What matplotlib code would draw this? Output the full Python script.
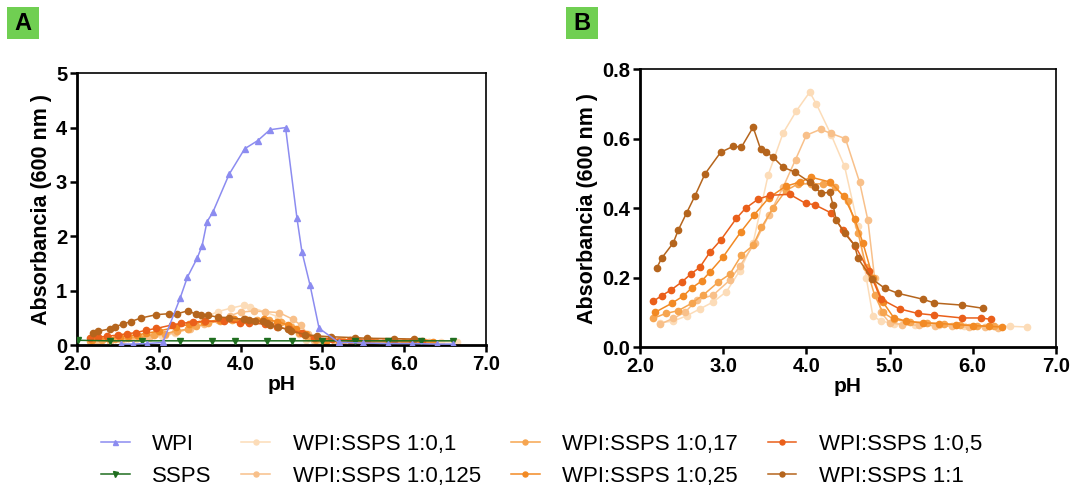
import matplotlib.pyplot as plt
from matplotlib.patches import Rectangle

plt.rcParams['font.family'] = ['Liberation Sans', 'DejaVu Sans']

# WPI and SSPS alone (panel A only)
wpi_ph = [2.54, 2.68, 2.86, 3.05, 3.26, 3.35, 3.47, 3.53, 3.59, 3.66, 3.86, 4.05, 4.21,
          4.36, 4.55, 4.69, 4.75, 4.85, 4.96, 5.2, 5.5, 5.8, 6.1, 6.4, 6.6]
wpi_abs = [0.02, 0.02, 0.03, 0.05, 0.86, 1.25, 1.60, 1.83, 2.27, 2.44, 3.14, 3.61, 3.76,
           3.96, 4.00, 2.33, 1.72, 1.10, 0.31, 0.05, 0.04, 0.03, 0.03, 0.02, 0.02]

ssps_ph = [2.01, 2.4, 2.8, 3.26, 3.65, 3.93, 4.32, 4.63, 5.0, 5.4, 5.8, 6.2, 6.6]
ssps_abs = [0.09, 0.08, 0.08, 0.08, 0.08, 0.08, 0.08, 0.08, 0.08, 0.08, 0.08, 0.08, 0.08]

# mixtures
m01_ph = [2.24, 2.40, 2.56, 2.72, 2.88, 3.04, 3.20, 3.36, 3.54, 3.72, 3.88, 4.04, 4.12,
          4.30, 4.46, 4.62, 4.72, 4.80, 4.90, 5.05, 5.30, 5.60, 5.90, 6.20, 6.45, 6.65]
m01_abs = [0.07, 0.075, 0.09, 0.11, 0.13, 0.16, 0.22, 0.30, 0.495, 0.616, 0.68, 0.734, 0.70,
           0.61, 0.52, 0.35, 0.20, 0.089, 0.075, 0.068, 0.065, 0.063, 0.062, 0.06, 0.06, 0.058]

m0125_ph = [2.24, 2.40, 2.54, 2.68, 2.88, 3.08, 3.20, 3.38, 3.55, 3.72, 3.87, 4.00, 4.17,
            4.30, 4.47, 4.64, 4.74, 4.82, 4.90, 5.00, 5.15, 5.35, 5.55, 5.75, 5.95, 6.15, 6.30]
m0125_abs = [0.066, 0.083, 0.10, 0.135, 0.15, 0.193, 0.233, 0.30, 0.38, 0.46, 0.54, 0.61, 0.627,
             0.615, 0.60, 0.475, 0.365, 0.20, 0.10, 0.07, 0.065, 0.063, 0.062, 0.06, 0.058, 0.057, 0.056]

m017_ph = [2.16, 2.31, 2.46, 2.62, 2.76, 2.94, 3.08, 3.22, 3.36, 3.46, 3.60, 3.75, 3.90, 4.05,
           4.20, 4.35, 4.50, 4.62, 4.72, 4.82, 4.92, 5.05, 5.25, 5.45, 5.65, 5.85, 6.05, 6.25]
m017_abs = [0.083, 0.097, 0.105, 0.126, 0.15, 0.187, 0.21, 0.265, 0.293, 0.345, 0.40, 0.45, 0.47, 0.47,
            0.47, 0.46, 0.42, 0.33, 0.23, 0.15, 0.10, 0.08, 0.072, 0.07, 0.066, 0.064, 0.062, 0.06]

m025_ph = [2.18, 2.38, 2.52, 2.62, 2.74, 2.84, 3.00, 3.21, 3.37, 3.55, 3.75, 3.92, 4.06, 4.29,
           4.45, 4.58, 4.68, 4.80, 4.92, 5.05, 5.20, 5.40, 5.60, 5.80, 6.00, 6.20, 6.35]
m025_abs = [0.10, 0.126, 0.147, 0.17, 0.19, 0.216, 0.26, 0.331, 0.38, 0.43, 0.463, 0.475, 0.489, 0.475,
            0.434, 0.37, 0.30, 0.20, 0.13, 0.085, 0.075, 0.07, 0.068, 0.065, 0.062, 0.06, 0.058]

m05_ph = [2.16, 2.26, 2.37, 2.50, 2.61, 2.72, 2.84, 2.97, 3.16, 3.27, 3.42, 3.56, 3.80, 3.99,
          4.10, 4.30, 4.44, 4.59, 4.75, 4.90, 5.12, 5.34, 5.54, 5.87, 6.10, 6.22]
m05_abs = [0.132, 0.148, 0.164, 0.187, 0.21, 0.23, 0.273, 0.308, 0.371, 0.40, 0.426, 0.437, 0.44, 0.414,
           0.41, 0.386, 0.337, 0.29, 0.22, 0.138, 0.11, 0.097, 0.092, 0.084, 0.084, 0.08]

m1_ph = [2.20, 2.26, 2.40, 2.46, 2.56, 2.66, 2.78, 2.97, 3.12, 3.22, 3.36, 3.45, 3.52, 3.60, 3.72,
         3.86, 4.04, 4.10, 4.18, 4.28, 4.32, 4.36, 4.46, 4.58, 4.62, 4.79, 4.94, 5.10, 5.40, 5.54,
         5.87, 6.12]
m1_abs = [0.227, 0.256, 0.30, 0.337, 0.386, 0.435, 0.498, 0.561, 0.578, 0.576, 0.633, 0.57, 0.561,
          0.547, 0.518, 0.504, 0.475, 0.46, 0.443, 0.446, 0.41, 0.365, 0.328, 0.293, 0.256, 0.196,
          0.17, 0.155, 0.138, 0.127, 0.121, 0.112]

mix_labels = ['WPI:SSPS 1:0,1', 'WPI:SSPS 1:0,125', 'WPI:SSPS 1:0,17',
              'WPI:SSPS 1:0,25', 'WPI:SSPS 1:0,5', 'WPI:SSPS 1:1']
mix_colors = ['#fcdcb8', '#f8c08a', '#f6a550', '#f28a24', '#ea5f1a', '#b5651d']
mix_data = [(m01_ph, m01_abs), (m0125_ph, m0125_abs), (m017_ph, m017_abs),
            (m025_ph, m025_abs), (m05_ph, m05_abs), (m1_ph, m1_abs)]

fig = plt.figure(figsize=(10.72, 4.91), dpi=100)
axA = fig.add_axes([0.0718, 0.297, 0.3815, 0.554])
axB = fig.add_axes([0.597, 0.293, 0.388, 0.566])


def style(ax):
    for s in ['left', 'bottom']:
        ax.spines[s].set_linewidth(2.0)
    for s in ['top', 'right']:
        ax.spines[s].set_linewidth(1.2)
    ax.tick_params(direction='out', length=5, width=1.8, labelsize=14.5, pad=2)
    for lab in ax.get_xticklabels() + ax.get_yticklabels():
        lab.set_fontweight('bold')
    ax.set_xlim(2, 7)
    ax.set_xlabel('pH', fontsize=15, fontweight='bold', labelpad=1)
    ax.set_ylabel('Absorbancia (600 nm )', fontsize=15.5, fontweight='bold', labelpad=3)


handles = []
h, = axA.plot(wpi_ph, wpi_abs, '-^', color='#8c8cf0', lw=1.1, ms=4.5, label='WPI', zorder=4)
handles.append(h)
h, = axA.plot(ssps_ph, ssps_abs, '-v', color='#1f6e1f', lw=1.1, ms=4.5, label='SSPS', zorder=3)
handles.append(h)
for (px, py), lab, c in zip(mix_data, mix_labels, mix_colors):
    axA.plot(px, py, '-o', color=c, lw=1.1, ms=4.5)
    h, = axB.plot(px, py, '-o', color=c, lw=1.1, ms=4.5, label=lab)
    handles.append(h)

axA.set_ylim(0, 5)
axA.set_yticks([0, 1, 2, 3, 4, 5])
axA.set_yticklabels(['0', '1', '2', '3', '4', '5'])
axB.set_ylim(0, 0.8)
axB.set_yticks([0.0, 0.2, 0.4, 0.6, 0.8])
axB.set_yticklabels(['0.0', '0.2', '0.4', '0.6', '0.8'])
for ax in (axA, axB):
    ax.set_xticks([2, 3, 4, 5, 6, 7])
    ax.set_xticklabels(['2.0', '3.0', '4.0', '5.0', '6.0', '7.0'])
    style(ax)

fig.legend(handles=handles, loc='center', bbox_to_anchor=(0.505, 0.063), ncol=4,
           frameon=False, fontsize=16, handlelength=1.3, handletextpad=1.0,
           columnspacing=1.35, labelspacing=0.5, markerscale=0.8)

# panel letters in green boxes
for x0, t in [(7, 'A'), (566, 'B')]:
    fig.patches.append(Rectangle((x0 / 1072, 1 - 39 / 491), 32 / 1072, 32 / 491,
                                 transform=fig.transFigure, fc='#70cf52', ec='none'))
    fig.text((x0 + 16) / 1072, 1 - 23 / 491, t, fontsize=17, fontweight='bold',
             ha='center', va='center')

fig.savefig('out.png', dpi=100)
